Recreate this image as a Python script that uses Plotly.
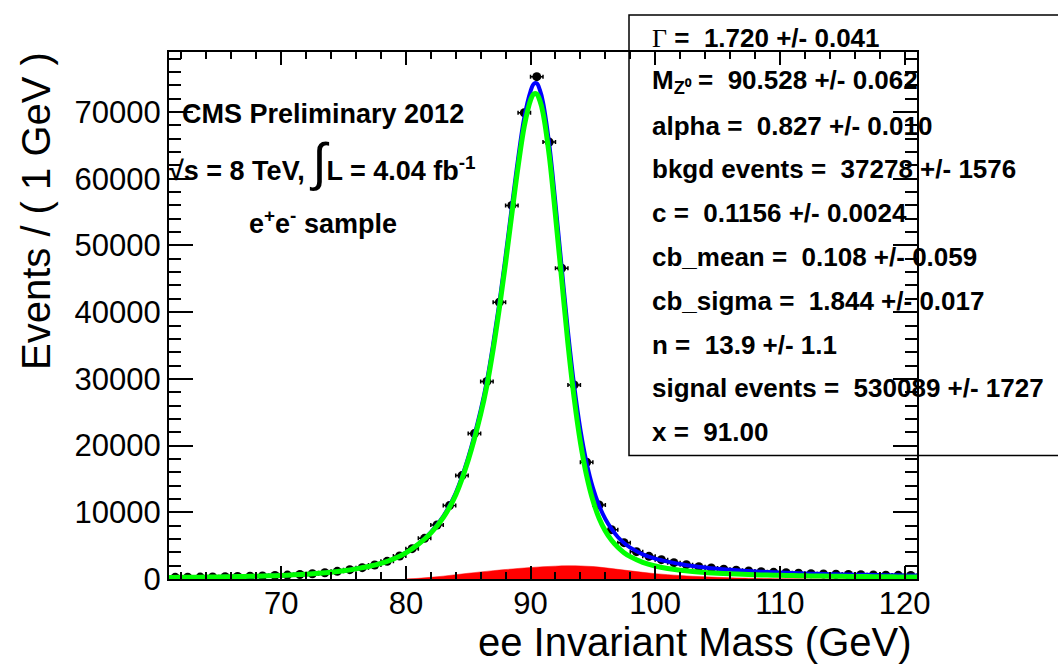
import plotly.graph_objects as go

# ---------------- data ----------------
mass_bins = [61.5, 62.5, 63.5, 64.5, 65.5, 66.5, 67.5, 68.5, 69.5, 70.5,
             71.5, 72.5, 73.5, 74.5, 75.5, 76.5, 77.5, 78.5, 79.5, 80.5,
             81.5, 82.5, 83.5, 84.5, 85.5, 86.5, 87.5, 88.5, 89.5, 90.5,
             91.5, 92.5, 93.5, 94.5, 95.5, 96.5, 97.5, 98.5, 99.5, 100.5,
             101.5, 102.5, 103.5, 104.5, 105.5, 106.5, 107.5, 108.5, 109.5, 110.5,
             111.5, 112.5, 113.5, 114.5, 115.5, 116.5, 117.5, 118.5, 119.5, 120.5]
events = [250, 265, 285, 310, 340, 370, 410, 460, 520, 590,
          680, 790, 940, 1150, 1400, 1700, 2100, 2650, 3450, 4550,
          6100, 8100, 11000, 15500, 21800, 29600, 41500, 56000, 69900, 75300,
          65500, 46600, 29100, 17500, 11100, 7400, 5450, 4100, 3400, 2900,
          2450, 2150, 1850, 1650, 1480, 1330, 1200, 1100, 1000, 930,
          860, 800, 750, 710, 670, 630, 600, 580, 550, 530]
bin_half_width = 0.5

curve_mass = [61, 62, 63, 64, 65, 66, 67, 68, 69, 70,
              71, 72, 73, 74, 75, 76, 77, 78, 79, 80,
              81, 82, 83, 84, 85, 86, 86.5, 87, 87.5, 88,
              88.5, 89, 89.5, 90, 90.25, 90.5, 90.75, 91, 91.5, 92,
              92.5, 93, 93.5, 94, 94.5, 95, 95.5, 96, 96.5, 97,
              97.5, 98, 99, 100, 101, 102, 103, 104, 105, 106,
              107, 108, 109, 110, 111, 112, 113, 114, 115, 116,
              117, 118, 119, 120, 121]
total_fit = [240, 255, 270, 290, 315, 345, 380, 425, 480, 545,
             625, 730, 860, 1030, 1250, 1530, 1880, 2340, 3000, 3950,
             5250, 7000, 9400, 12900, 18200, 25300, 29700, 35200, 41400, 48400,
             55800, 63000, 69200, 73100, 74200, 74300, 73300, 71500, 65200, 56300,
             46700, 37200, 29000, 22400, 17400, 13700, 11000, 9000, 7500, 6300,
             5400, 4700, 3700, 3050, 2600, 2250, 1950, 1720, 1530, 1380,
             1250, 1140, 1040, 960, 890, 830, 780, 730, 690, 650,
             620, 590, 565, 540, 520]
signal_fit = [235, 250, 265, 285, 310, 340, 375, 420, 475, 540,
              620, 725, 855, 1020, 1240, 1520, 1870, 2330, 2990, 3930,
              5200, 6880, 9200, 12600, 17800, 24700, 29000, 34400, 40600, 47400,
              54700, 61800, 67900, 71800, 72700, 72700, 71700, 69900, 63500, 54500,
              44900, 35300, 27100, 20500, 15500, 11800, 9100, 7200, 5800, 4750,
              3950, 3350, 2500, 1950, 1580, 1320, 1130, 980, 860, 770,
              700, 640, 590, 550, 510, 480, 450, 420, 400, 380,
              360, 340, 320, 300, 290]

bkg_mass = [80, 81, 82, 83, 84, 85, 86, 87, 88, 89,
            90, 91, 92, 93, 94, 95, 96, 97, 98, 99,
            100, 101, 102, 103, 104, 105, 106, 107, 108, 110,
            115, 121]
bkg_fit = [0, 100, 250, 430, 640, 860, 1060, 1250, 1420, 1580,
           1720, 1840, 1930, 1980, 1960, 1870, 1680, 1450, 1220, 1000,
           800, 650, 520, 410, 320, 250, 190, 140, 100, 50,
           15, 0]

x_ticks = [70, 80, 90, 100, 110, 120]
y_ticks = [0, 10000, 20000, 30000, 40000, 50000, 60000, 70000]

stats_lines = [
    "<span style=\"font-family:'Liberation Serif';font-weight:normal\">Γ</span> =  1.720 +/- 0.041",
    "M<sub>Z⁰</sub> =  90.528 +/- 0.062",
    "alpha =  0.827 +/- 0.010",
    "bkgd events =  37278 +/- 1576",
    "c =  0.1156 +/- 0.0024",
    "cb_mean =  0.108 +/- 0.059",
    "cb_sigma =  1.844 +/- 0.017",
    "n =  13.9 +/- 1.1",
    "signal events =  530089 +/- 1727",
    "x =  91.00",
]

# ---------------- geometry helpers (pixels -> paper) ----------------
W, H = 1058, 666
L, R, T, B = 169, 917, 52, 579


def px(x):
    return (x - L) / (R - L)


def py(y):
    return (B - y) / (B - T)


FONT = "Liberation Sans, Arial, Helvetica, sans-serif"

fig = go.Figure()

fig.add_trace(go.Scatter(
    x=bkg_mass, y=bkg_fit, mode="lines", fill="tozeroy",
    fillcolor="#ff0000", line=dict(color="#ff0000", width=0.5),
    line_shape="spline", hoverinfo="skip", showlegend=False))

fig.add_trace(go.Scatter(
    x=mass_bins, y=events, mode="markers",
    marker=dict(symbol="circle", size=9, color="black"),
    error_x=dict(type="constant", value=bin_half_width, color="black",
                 thickness=1.5, width=2),
    showlegend=False))

fig.add_trace(go.Scatter(
    x=curve_mass, y=total_fit, mode="lines", line_shape="spline",
    line=dict(color="#0000ff", width=4), showlegend=False))

fig.add_trace(go.Scatter(
    x=curve_mass, y=signal_fit, mode="lines", line_shape="spline",
    line=dict(color="#00ff00", width=5), showlegend=False))

axis_common = dict(
    showgrid=False, zeroline=False, ticks="inside", tickcolor="black",
    tickwidth=1.5, linecolor="black", linewidth=2, mirror="ticks",
    tickfont=dict(family=FONT, size=31, color="black"),
)

fig.update_xaxes(range=[61, 121], tickvals=x_ticks, ticklen=13,
                 ticklabelstandoff=-4,
                 minor=dict(dtick=2, tick0=0, ticks="inside", ticklen=7,
                            tickwidth=1.5, tickcolor="black"),
                 **axis_common)
fig.update_yaxes(range=[0, 79000], tickvals=y_ticks, tickformat="d", ticklen=24,
                 minor=dict(dtick=2000, tick0=0, ticks="inside", ticklen=12,
                            tickwidth=1.5, tickcolor="black"),
                 **axis_common)

annotations = []
# axis titles
annotations.append(dict(text="ee Invariant Mass (GeV)", xref="paper", yref="paper",
                        x=px(914), y=py(665.5), xanchor="right", yanchor="bottom",
                        showarrow=False, font=dict(family=FONT, size=40, color="black")))
annotations.append(dict(text="Events / ( 1 GeV )", xref="paper", yref="paper",
                        x=px(36), y=py(211), xanchor="center", yanchor="middle",
                        textangle=-90, showarrow=False,
                        font=dict(family=FONT, size=40, color="black")))
# CMS labels
annotations.append(dict(text="CMS Preliminary 2012", xref="paper", yref="paper",
                        x=px(323), y=py(114), xanchor="center", yanchor="middle",
                        showarrow=False, font=dict(family=FONT, size=27, color="black", weight="bold")))
annotations.append(dict(text="√s = 8 TeV, <span style=\"font-size:52px;font-weight:normal\">∫</span>L = 4.04 fb<sup>-1</sup>",
                        xref="paper", yref="paper",
                        x=px(322), y=py(162), xanchor="center", yanchor="middle",
                        showarrow=False, font=dict(family=FONT, size=27, color="black", weight="bold")))
annotations.append(dict(text="e<sup>+</sup>e<sup>-</sup> sample", xref="paper", yref="paper",
                        x=px(323), y=py(222), xanchor="center", yanchor="middle",
                        showarrow=False, font=dict(family=FONT, size=27, color="black", weight="bold")))
# stats box text
for i, line in enumerate(stats_lines):
    annotations.append(dict(text=line, xref="paper", yref="paper",
                            x=px(650), y=py(38 + i * 43.8), xanchor="left", yanchor="middle",
                            showarrow=False,
                            font=dict(family=FONT, size=26, color="black", weight="bold")))

fig.update_layout(
    width=W, height=H, autosize=False,
    margin=dict(l=L, r=W - R, t=T, b=H - B, pad=0),
    paper_bgcolor="white", plot_bgcolor="white",
    annotations=annotations,
    shapes=[dict(type="rect", xref="paper", yref="paper",
                 x0=px(629), x1=px(1075), y0=py(455.5), y1=py(15),
                 line=dict(color="black", width=1.5), fillcolor="rgba(0,0,0,0)",
                 layer="above")],
)

fig.write_html("out.html")
